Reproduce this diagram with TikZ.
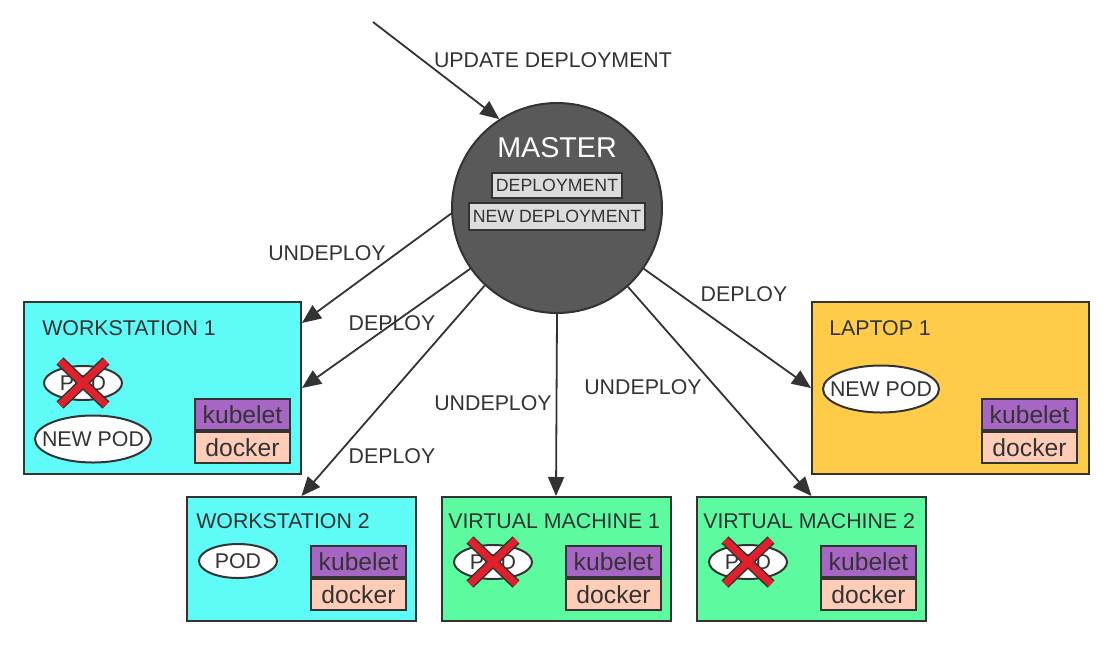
\documentclass[tikz,border=0pt]{standalone}
\usepackage{fontspec}
\setmainfont{Liberation Sans}
\usetikzlibrary{arrows.meta,positioning,shapes.geometric}
\newdimen\px \px=0.75pt
\definecolor{ink}{HTML}{333333}
\definecolor{wscyan}{HTML}{5EFBF7}
\definecolor{vmgreen}{HTML}{5CFBA0}
\definecolor{lporange}{HTML}{FFCC4A}
\definecolor{kubepurple}{HTML}{A866C4}
\definecolor{dockersalmon}{HTML}{FFCCB8}
\definecolor{masterfill}{HTML}{595959}
\definecolor{depfill}{HTML}{DCDCDC}
\definecolor{crossred}{HTML}{E0202A}
\newcommand{\podlabel}[1]{\makebox[0pt]{#1}}
\tikzset{
	host/.style={draw=ink, line width=2\px, inner sep=0pt},
	bighost/.style={host, minimum width=277\px, minimum height=172\px},
	smallhost/.style={host, minimum width=229\px, minimum height=124\px},
	title/.style={anchor=west, inner sep=0pt},
	kubelet/.style={draw=ink, line width=2\px, fill=kubepurple, minimum width=95\px, minimum height=31\px, inner sep=0pt, font=\fontsize{18.5}{20}\selectfont},
	docker/.style={kubelet, fill=dockersalmon},
	pod/.style={ellipse, draw=ink, line width=2\px, fill=white, minimum width=78\px, minimum height=34\px, inner sep=0pt},
	newpod/.style={pod, minimum width=116\px, minimum height=47\px},
	master/.style={circle, draw=ink, line width=2\px, fill=masterfill, minimum size=210\px, inner sep=0pt},
	depbox/.style={draw=ink, line width=2\px, fill=depfill, inner xsep=4\px, inner ysep=0pt, minimum height=25\px, font=\fontsize{13.3}{15}\selectfont},
	deploy/.style={draw=ink, line width=1.8\px, -{Triangle[length=14.25pt, width=12pt]}},
	tag/.style={inner sep=0pt}
}
\begin{document}
\begin{tikzpicture}[x=1\px, y=-1\px, font=\fontsize{16}{19}\selectfont, text=ink]
	\useasboundingbox (0,0) rectangle (1113,647);
	\node[master] (master) at (557,208) {};
	\node[tag, text=white, font=\fontsize{21.5}{24}\selectfont] (mtitle) at (557,148) {MASTER};
	\node[depbox] (dep) at (557,185) {DEPLOYMENT};
	\node[depbox, minimum height=27\px] (newdep) at (557,216) {NEW DEPLOYMENT};

	\node[bighost, fill=wscyan] (ws1) at (162.5,388) {};
	\node[smallhost, fill=wscyan] (ws2) at (301.5,559) {};
	\node[smallhost, fill=vmgreen] (vm1) at (556,559) {};
	\node[smallhost, fill=vmgreen] (vm2) at (811.5,559) {};
	\node[bighost, fill=lporange] (laptop) at (950.5,388) {};

	\node[title] (ws1t) at (42,328) {WORKSTATION 1};
	\node[title] (ws2t) at (196,521) {WORKSTATION 2};
	\node[title] (vm1t) at (448,521) {VIRTUAL MACHINE 1};
	\node[title] (vm2t) at (703,521) {VIRTUAL MACHINE 2};
	\node[title] (laptopt) at (829,328) {LAPTOP 1};

	\foreach \h/\x/\y in {ws1/242.5/447.5, ws2/358.5/594.5, vm1/613.5/594.5, vm2/868.5/594.5, laptop/1029.5/447.5} {
		\node[docker] (\h docker) at (\x,\y) {docker};
		\node[kubelet, above=0pt of \h docker] (\h kubelet) {kubelet};
	}

	\node[pod] (ws1pod) at (83,383) {\podlabel{POD}};
	\node[newpod] (ws1newpod) at (93,439) {\podlabel{NEW POD}};
	\node[pod] (ws2pod) at (238,561) {\podlabel{POD}};
	\node[pod] (vm1pod) at (493,562) {\podlabel{POD}};
	\node[pod] (vm2pod) at (748,562) {\podlabel{POD}};
	\node[newpod] (laptoppod) at (881,389) {\podlabel{NEW POD}};

	\foreach \p in {ws1pod, vm1pod, vm2pod} {
		\foreach \c/\w in {ink/7.5pt, crossred/5.25pt}
			\draw[\c, line width=\w] ([shift={(-23\px,22\px)}]\p.center) -- ([shift={(23\px,-22\px)}]\p.center)
				([shift={(-23\px,-22\px)}]\p.center) -- ([shift={(23\px,22\px)}]\p.center);
	}

	\coordinate (update) at (373,22);
	\draw[deploy] (update) -- (master.123);
	\draw[deploy] (master.183) -- (ws1.25);
	\draw[deploy] (master.215) -- (ws1.east);
	\draw[deploy] (master.227) -- (ws2.north);
	\draw[deploy] (master.270) -- (vm1.north);
	\draw[deploy] (master.312) -- (vm2.north);
	\draw[deploy] (master.325) -- (laptop.west);

	\node[tag] (lupdate) at (553,60) {UPDATE DEPLOYMENT};
	\node[tag] (lundeploy1) at (327,253) {UNDEPLOY};
	\node[tag] (ldeploy1) at (392,323) {DEPLOY};
	\node[tag] (ldeploy2) at (392,456) {DEPLOY};
	\node[tag] (lundeploy2) at (493,403) {UNDEPLOY};
	\node[tag] (lundeploy3) at (643,387) {UNDEPLOY};
	\node[tag] (ldeploy3) at (744,294) {DEPLOY};
\end{tikzpicture}
\end{document}
